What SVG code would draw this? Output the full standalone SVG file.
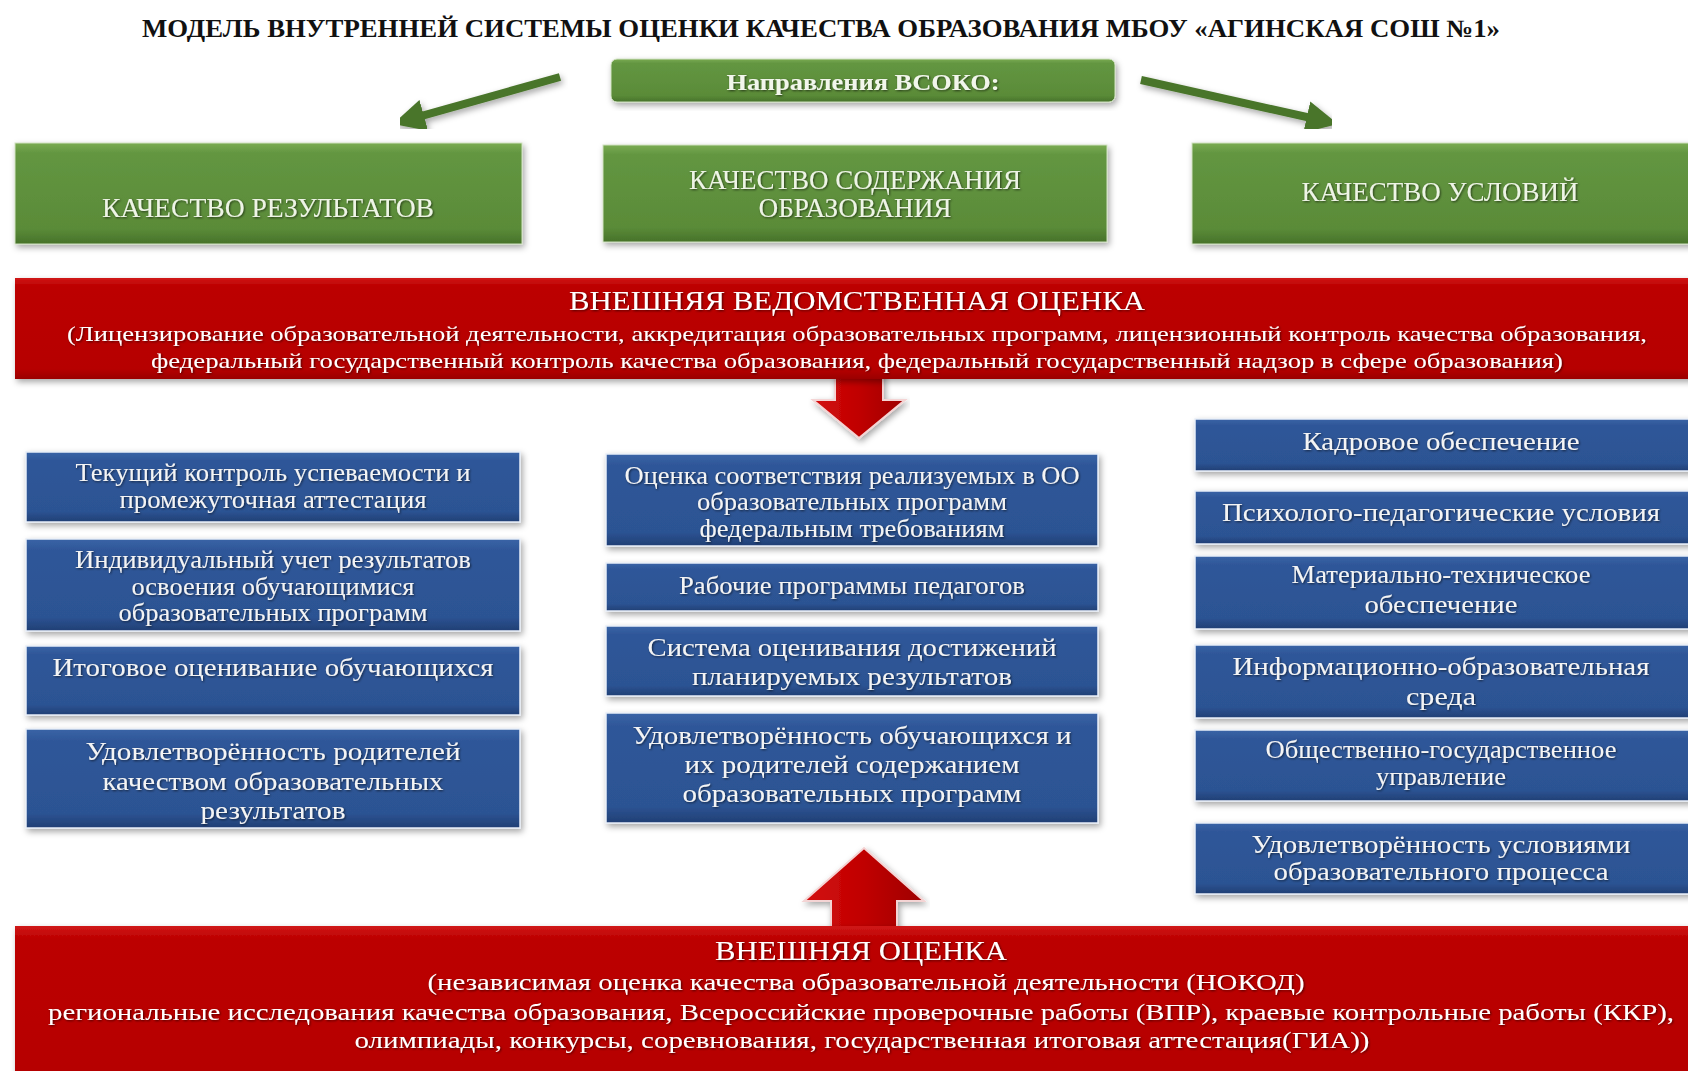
<svg xmlns="http://www.w3.org/2000/svg" width="1688" height="1071" viewBox="0 0 1688 1071">
<style>
.t{font-family:"Liberation Serif","Times New Roman",serif;}
.title{font-size:25px;font-weight:bold;fill:#111;}
.bt{font-size:25px;fill:#f4f4f4;text-anchor:middle;}
.gt{font-size:28px;fill:#eef4e6;text-anchor:middle;}
.hd{font-size:23px;font-weight:bold;fill:#f2f6ec;text-anchor:middle;}
.rh{font-size:27px;fill:#ffffff;text-anchor:middle;}
.rs{font-size:22px;fill:#ffffff;text-anchor:middle;}
.rb{font-size:24px;fill:#ffffff;text-anchor:middle;}
.blue{fill:url(#gBlue);stroke:#e8eef8;stroke-width:1.5;}
.green{fill:url(#gGreen);stroke:#cfe0c0;stroke-width:1;}
.red{fill:url(#gRed);}
.garrow{stroke:#4a752b;stroke-width:8;fill:none;}
.rarrow{fill:url(#gRedA);stroke:#f4d4d4;stroke-width:2;}
</style>
<defs>
<linearGradient id="gBlue" x1="0" y1="0" x2="0" y2="1">
<stop offset="0" stop-color="#3a64a6"/>
<stop offset="0.12" stop-color="#2f5799"/>
<stop offset="0.85" stop-color="#2c5393"/>
<stop offset="1" stop-color="#213f74"/>
</linearGradient>
<linearGradient id="gGreen" x1="0" y1="0" x2="0" y2="1">
<stop offset="0" stop-color="#7aab52"/>
<stop offset="0.1" stop-color="#639641"/>
<stop offset="0.85" stop-color="#5a8b38"/>
<stop offset="1" stop-color="#47722a"/>
</linearGradient>
<linearGradient id="gRed" x1="0" y1="0" x2="0" y2="1">
<stop offset="0" stop-color="#d01818"/>
<stop offset="0.08" stop-color="#bc0000"/>
<stop offset="0.9" stop-color="#b60000"/>
<stop offset="1" stop-color="#9a0000"/>
</linearGradient>
<linearGradient id="gRedA" x1="0" y1="0" x2="1" y2="0">
<stop offset="0" stop-color="#d41010"/>
<stop offset="0.5" stop-color="#c00000"/>
<stop offset="1" stop-color="#9e0000"/>
</linearGradient>
<filter id="sh" x="-5%" y="-20%" width="110%" height="140%">
<feDropShadow dx="2" dy="3" stdDeviation="3" flood-color="#000" flood-opacity="0.35"/>
</filter>
<filter id="ts" x="-5%" y="-30%" width="110%" height="160%">
<feDropShadow dx="1" dy="1" stdDeviation="0.8" flood-color="#000" flood-opacity="0.6"/>
</filter>
<marker id="ah" markerUnits="strokeWidth" markerWidth="4" markerHeight="4" refX="2" refY="2" orient="auto">
<path d="M0,0 L4,2 L0,4 z" fill="#4a752b"/>
</marker>
</defs>
<rect width="1688" height="1071" fill="#ffffff"/>

<text class="t title" x="142" y="37" textLength="1358" lengthAdjust="spacingAndGlyphs">МОДЕЛЬ ВНУТРЕННЕЙ СИСТЕМЫ ОЦЕНКИ КАЧЕСТВА ОБРАЗОВАНИЯ МБОУ «АГИНСКАЯ СОШ №1»</text>

<g id="connectors">
<line class="garrow" x1="560" y1="77" x2="408.4" y2="119.7" marker-end="url(#ah)" filter="url(#sh)"/>
<line class="garrow" x1="854" y1="102" x2="854" y2="124" marker-end="url(#ah)" filter="url(#sh)"/>
<line class="garrow" x1="1141" y1="80" x2="1322.4" y2="120.5" marker-end="url(#ah)" filter="url(#sh)"/>
<polygon class="rarrow" filter="url(#sh)" points="835,370 883,370 883,400 905,400 859,438 813,400 835,400"/>
<polygon class="rarrow" filter="url(#sh)" points="864,848 924,901 897,901 897,935 831,935 831,901 804,901"/>
</g>

<g id="header">
<rect class="green" x="611" y="59" width="504" height="43" rx="6" filter="url(#sh)"/>
<text class="t hd" x="863" y="90" textLength="273" lengthAdjust="spacingAndGlyphs" filter="url(#ts)">Направления ВСОКО:</text>
</g>

<g id="q-results">
<rect class="green" x="15" y="143" width="507" height="101" filter="url(#sh)"/>
<text class="t gt" x="268" y="217" textLength="332" lengthAdjust="spacingAndGlyphs" filter="url(#ts)">КАЧЕСТВО РЕЗУЛЬТАТОВ</text>
</g>
<g id="q-content">
<rect class="green" x="603" y="145" width="504" height="97" filter="url(#sh)"/>
<text class="t gt" x="855" y="189" textLength="332" lengthAdjust="spacingAndGlyphs" filter="url(#ts)">КАЧЕСТВО СОДЕРЖАНИЯ</text>
<text class="t gt" x="855" y="217" textLength="193" lengthAdjust="spacingAndGlyphs" filter="url(#ts)">ОБРАЗОВАНИЯ</text>
</g>
<g id="q-conditions">
<rect class="green" x="1192" y="143" width="510" height="101" filter="url(#sh)"/>
<text class="t gt" x="1440" y="201" textLength="277" lengthAdjust="spacingAndGlyphs" filter="url(#ts)">КАЧЕСТВО УСЛОВИЙ</text>
</g>

<g id="ext-dept">
<rect class="red" x="15" y="278" width="1690" height="101" filter="url(#sh)"/>
<text class="t rh" x="857" y="310" textLength="576" lengthAdjust="spacingAndGlyphs" filter="url(#ts)">ВНЕШНЯЯ ВЕДОМСТВЕННАЯ ОЦЕНКА</text>
<text class="t rs" x="857" y="341" textLength="1580" lengthAdjust="spacingAndGlyphs" filter="url(#ts)">(Лицензирование образовательной деятельности, аккредитация образовательных программ, лицензионный контроль качества образования,</text>
<text class="t rs" x="857" y="368" textLength="1412" lengthAdjust="spacingAndGlyphs" filter="url(#ts)">федеральный государственный контроль качества образования, федеральный государственный надзор в сфере образования)</text>
</g>

<g id="l1">
<rect class="blue" x="26" y="452" width="494" height="70" filter="url(#sh)"/>
<text class="t bt" x="273" y="481" textLength="395" lengthAdjust="spacingAndGlyphs" filter="url(#ts)">Текущий контроль успеваемости и</text>
<text class="t bt" x="273" y="508" textLength="307" lengthAdjust="spacingAndGlyphs" filter="url(#ts)">промежуточная аттестация</text>
</g>
<g id="l2">
<rect class="blue" x="26" y="539" width="494" height="92" filter="url(#sh)"/>
<text class="t bt" x="273" y="568" textLength="396" lengthAdjust="spacingAndGlyphs" filter="url(#ts)">Индивидуальный учет результатов</text>
<text class="t bt" x="273" y="595" textLength="283" lengthAdjust="spacingAndGlyphs" filter="url(#ts)">освоения обучающимися</text>
<text class="t bt" x="273" y="621" textLength="309" lengthAdjust="spacingAndGlyphs" filter="url(#ts)">образовательных программ</text>
</g>
<g id="l3">
<rect class="blue" x="26" y="646" width="494" height="69" filter="url(#sh)"/>
<text class="t bt" x="273" y="676" textLength="441" lengthAdjust="spacingAndGlyphs" filter="url(#ts)">Итоговое оценивание обучающихся</text>
</g>
<g id="l4">
<rect class="blue" x="26" y="729" width="494" height="99" filter="url(#sh)"/>
<text class="t bt" x="273" y="760" textLength="375" lengthAdjust="spacingAndGlyphs" filter="url(#ts)">Удовлетворённость родителей</text>
<text class="t bt" x="273" y="790" textLength="341" lengthAdjust="spacingAndGlyphs" filter="url(#ts)">качеством образовательных</text>
<text class="t bt" x="273" y="819" textLength="145" lengthAdjust="spacingAndGlyphs" filter="url(#ts)">результатов</text>
</g>

<g id="m1">
<rect class="blue" x="606" y="454" width="492" height="92" filter="url(#sh)"/>
<text class="t bt" x="852" y="484" textLength="455" lengthAdjust="spacingAndGlyphs" filter="url(#ts)">Оценка соответствия реализуемых в ОО</text>
<text class="t bt" x="852" y="510" textLength="310" lengthAdjust="spacingAndGlyphs" filter="url(#ts)">образовательных программ</text>
<text class="t bt" x="852" y="537" textLength="305" lengthAdjust="spacingAndGlyphs" filter="url(#ts)">федеральным требованиям</text>
</g>
<g id="m2">
<rect class="blue" x="606" y="563" width="492" height="48" filter="url(#sh)"/>
<text class="t bt" x="852" y="594" textLength="346" lengthAdjust="spacingAndGlyphs" filter="url(#ts)">Рабочие программы педагогов</text>
</g>
<g id="m3">
<rect class="blue" x="606" y="626" width="492" height="70" filter="url(#sh)"/>
<text class="t bt" x="852" y="656" textLength="409" lengthAdjust="spacingAndGlyphs" filter="url(#ts)">Система оценивания достижений</text>
<text class="t bt" x="852" y="685" textLength="320" lengthAdjust="spacingAndGlyphs" filter="url(#ts)">планируемых результатов</text>
</g>
<g id="m4">
<rect class="blue" x="606" y="713" width="492" height="110" filter="url(#sh)"/>
<text class="t bt" x="852" y="744" textLength="439" lengthAdjust="spacingAndGlyphs" filter="url(#ts)">Удовлетворённость обучающихся и</text>
<text class="t bt" x="852" y="773" textLength="335" lengthAdjust="spacingAndGlyphs" filter="url(#ts)">их родителей содержанием</text>
<text class="t bt" x="852" y="802" textLength="339" lengthAdjust="spacingAndGlyphs" filter="url(#ts)">образовательных программ</text>
</g>

<g id="r1">
<rect class="blue" x="1195" y="419" width="510" height="52" filter="url(#sh)"/>
<text class="t bt" x="1441" y="450" textLength="277" lengthAdjust="spacingAndGlyphs" filter="url(#ts)">Кадровое обеспечение</text>
</g>
<g id="r2">
<rect class="blue" x="1195" y="491" width="510" height="53" filter="url(#sh)"/>
<text class="t bt" x="1441" y="521" textLength="438" lengthAdjust="spacingAndGlyphs" filter="url(#ts)">Психолого-педагогические условия</text>
</g>
<g id="r3">
<rect class="blue" x="1195" y="556" width="510" height="73" filter="url(#sh)"/>
<text class="t bt" x="1441" y="583" textLength="299" lengthAdjust="spacingAndGlyphs" filter="url(#ts)">Материально-техническое</text>
<text class="t bt" x="1441" y="613" textLength="153" lengthAdjust="spacingAndGlyphs" filter="url(#ts)">обеспечение</text>
</g>
<g id="r4">
<rect class="blue" x="1195" y="645" width="510" height="73" filter="url(#sh)"/>
<text class="t bt" x="1441" y="675" textLength="417" lengthAdjust="spacingAndGlyphs" filter="url(#ts)">Информационно-образовательная</text>
<text class="t bt" x="1441" y="705" textLength="70" lengthAdjust="spacingAndGlyphs" filter="url(#ts)">среда</text>
</g>
<g id="r5">
<rect class="blue" x="1195" y="730" width="510" height="71" filter="url(#sh)"/>
<text class="t bt" x="1441" y="758" textLength="351" lengthAdjust="spacingAndGlyphs" filter="url(#ts)">Общественно-государственное</text>
<text class="t bt" x="1441" y="785" textLength="130" lengthAdjust="spacingAndGlyphs" filter="url(#ts)">управление</text>
</g>
<g id="r6">
<rect class="blue" x="1195" y="823" width="510" height="71" filter="url(#sh)"/>
<text class="t bt" x="1441" y="853" textLength="379" lengthAdjust="spacingAndGlyphs" filter="url(#ts)">Удовлетворённость условиями</text>
<text class="t bt" x="1441" y="880" textLength="335" lengthAdjust="spacingAndGlyphs" filter="url(#ts)">образовательного процесса</text>
</g>

<g id="ext">
<rect class="red" x="15" y="926" width="1690" height="160" filter="url(#sh)"/>
<text class="t rh" x="861" y="960" textLength="292" lengthAdjust="spacingAndGlyphs" filter="url(#ts)">ВНЕШНЯЯ ОЦЕНКА</text>
<text class="t rb" x="866" y="990" textLength="877" lengthAdjust="spacingAndGlyphs" filter="url(#ts)">(независимая оценка качества образовательной деятельности (НОКОД)</text>
<text class="t rb" x="861" y="1020" textLength="1626" lengthAdjust="spacingAndGlyphs" filter="url(#ts)">региональные исследования качества образования, Всероссийские проверочные работы (ВПР), краевые контрольные работы (ККР),</text>
<text class="t rb" x="862" y="1048" textLength="1015" lengthAdjust="spacingAndGlyphs" filter="url(#ts)">олимпиады, конкурсы, соревнования, государственная итоговая аттестация(ГИА))</text>
</g>
</svg>
